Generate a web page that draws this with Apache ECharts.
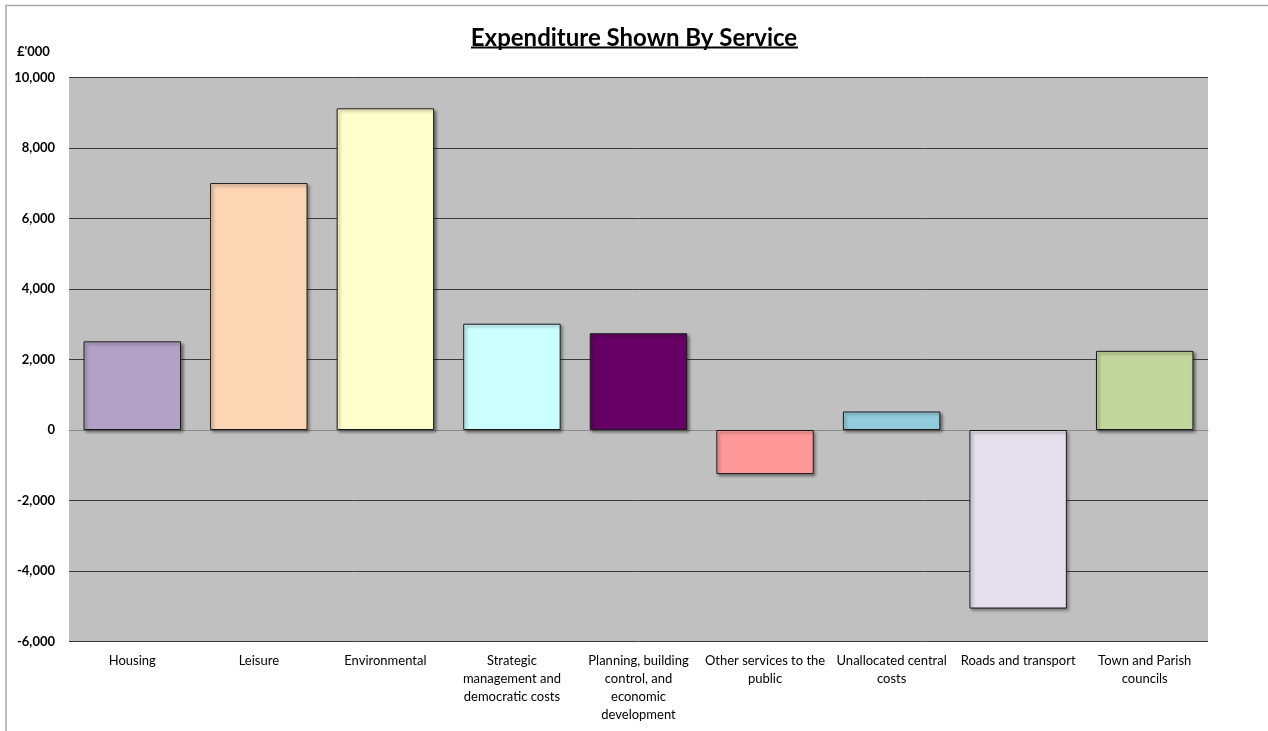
<!DOCTYPE html>
<html>
<head>
<meta charset="utf-8">
<script src="https://cdn.jsdelivr.net/npm/echarts@6/dist/echarts.min.js"></script>
<style>
  html, body { margin: 0; padding: 0; background: #fff; }
  #chart { width: 1268px; height: 731px; }
</style>
</head>
<body>
<div id="chart"></div>
<script>
// services (£'000)
const categories = [
  "Housing", "Leisure", "Environmental", "Strategic management and democratic costs",
  "Planning, building control, and economic development", "Other services to the public",
  "Unallocated central costs", "Roads and transport", "Town and Parish councils"
];
// wrapped the way the original axis shows them
const tickLabels = [
  "Housing", "Leisure", "Environmental", "Strategic\nmanagement and\ndemocratic costs",
  "Planning, building\ncontrol, and\neconomic\ndevelopment", "Other services to the\npublic",
  "Unallocated central\ncosts", "Roads and transport", "Town and Parish\ncouncils"
];
const values = [2515, 7005, 9125, 3015, 2745, -1250, 525, -5065, 2245];
const barColors = ["#B3A2C7", "#FCD5B5", "#FFFFCC", "#CCFFFF", "#660066", "#FF9999", "#93CDDD", "#E6E0EC", "#C3D69B"];

const font = "Lato, 'Open Sans', sans-serif";
let chart = echarts.init(document.getElementById("chart"));

chart.setOption({
  animation: false,
  backgroundColor: "#fff",
  title: {
    text: "Expenditure Shown By Service",
    left: "center",
    top: 21,
    textStyle: { fontFamily: font, fontSize: 24, fontWeight: "bold", color: "#000" }
  },
  graphic: [
    // outer frame (top + left edges only show in the original)
    { type: "polyline", silent: true, shape: { points: [[6, 731], [6, 5.5], [1268, 5.5]] },
      style: { stroke: "#a6a6a6", lineWidth: 1.5, fill: null } },
    // title underline
    { type: "rect", silent: true, shape: { x: 471, y: 46.5, width: 327, height: 2 }, style: { fill: "#000" } },
    // unit label
    { type: "text", silent: true, left: 17, top: 45,
      style: { text: "£'000", font: "bold 13px " + font, fill: "#000" } }
  ],
  grid: {
    left: 69, right: 60, top: 77.5, bottom: 89.5,
    show: true, backgroundColor: "#C0C0C0", borderWidth: 0
  },
  xAxis: {
    type: "category",
    data: categories,
    axisTick: { show: false },
    axisLine: { onZero: true, lineStyle: { color: "#8a8a8a", width: 1 } },
    axisLabel: {
      interval: 0, margin: 10, color: "#000", fontFamily: font, fontSize: 13, lineHeight: 18,
      formatter: (v, i) => tickLabels[i]
    }
  },
  yAxis: {
    type: "value",
    min: -6000, max: 10000, interval: 2000,
    axisLine: { show: false },
    axisTick: { show: false },
    splitLine: { lineStyle: { color: "#3c3c3c", width: 1 } },
    axisLabel: {
      margin: 14, color: "#000", fontFamily: font, fontSize: 13, fontWeight: "bold",
      formatter: v => v.toLocaleString("en-GB")
    }
  },
  series: [{
    type: "bar",
    data: values.map((v, i) => ({ value: v, itemStyle: { color: barColors[i] } })),
    barCategoryGap: "23%",
    itemStyle: {
      borderColor: "#1a1a1a", borderWidth: 1,
      shadowColor: "rgba(0,0,0,0.45)", shadowBlur: 3, shadowOffsetX: 2, shadowOffsetY: 2
    }
  }]
});
</script>
</body>
</html>
